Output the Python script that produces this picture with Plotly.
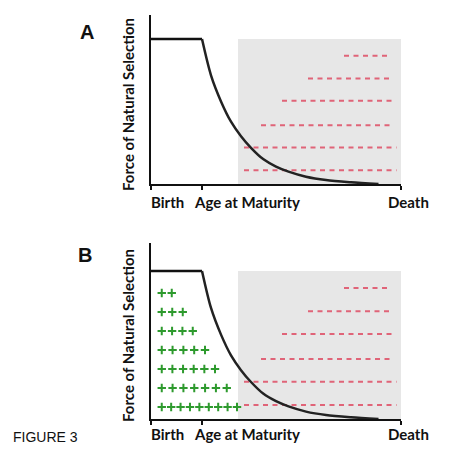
import plotly.graph_objects as go

# ---- data ----
flat_x = [0.0, 0.204]
flat_y = [1.0, 1.0]
curve_x = [0.204, 0.24, 0.28, 0.32, 0.36, 0.40, 0.45, 0.50, 0.55, 0.62, 0.70, 0.80, 0.91]
curve_y = [1.0, 0.75, 0.57, 0.43, 0.33, 0.25, 0.17, 0.12, 0.085, 0.05, 0.027, 0.012, 0.0]

shade_x = [0.348, 1.0]

dash_y = [0.885, 0.728, 0.575, 0.405, 0.252, 0.095]
dash_x0 = [0.772, 0.628, 0.524, 0.44, 0.372, 0.372]
dash_x1 = [0.95, 0.966, 0.97, 0.97, 0.982, 0.982]

plus_y = [0.851, 0.723, 0.595, 0.466, 0.338, 0.209, 0.081]
plus_n = [2, 3, 4, 5, 6, 7, 9]
plus_x0 = 0.043
plus_x1 = [0.083, 0.127, 0.167, 0.216, 0.256, 0.303, 0.344]

x_labels = ["Birth", "Age at Maturity", "Death"]
y_title = "Force of Natural Selection"
panel_labels = ["A", "B"]
fig_label = "FIGURE 3"

# ---- layout helpers (pixel geometry; page body has an 8px margin) ----
OFF = 8
W, H = 474 - OFF, 454 - OFF
def px_x(p):
    return (p - OFF) / W
def px_y(p):
    return 1 - (p - OFF) / H

panels = [
    dict(xa="x", ya="y", xd=[px_x(151), px_x(401)], yd=[px_y(184), px_y(15)], yr=[0, 1.166],
         lab_y=202, title_y=105, letter_xy=(87, 32), plus=False),
    dict(xa="x2", ya="y2", xd=[px_x(151), px_x(401)], yd=[px_y(419), px_y(243)], yr=[0, 1.189],
         lab_y=434, title_y=336, letter_xy=(85, 255), plus=True),
]

RED = "#e06478"
GREEN = "#2e9a2e"
fig = go.Figure()
annotations = []
shapes = []

for i, p in enumerate(panels):
    xa, ya = p["xa"], p["ya"]
    shapes.append(dict(type="rect", xref=xa, yref=ya, x0=shade_x[0], x1=shade_x[1], y0=0, y1=1,
                       fillcolor="#e7e7e7", line=dict(width=0), layer="below"))
    for yv, a, b in zip(dash_y, dash_x0, dash_x1):
        fig.add_trace(go.Scatter(x=[a, b], y=[yv, yv], mode="lines", xaxis=xa, yaxis=ya,
                                 line=dict(color=RED, width=2, dash="5px,4.5px"),
                                 showlegend=False, hoverinfo="skip"))
    if p["plus"]:
        for yv, n, x1 in zip(plus_y, plus_n, plus_x1):
            step = (x1 - plus_x0) / (n - 1)
            xs = [plus_x0 + k * step for k in range(n)]
            fig.add_trace(go.Scatter(x=xs, y=[yv] * n, mode="markers", xaxis=xa, yaxis=ya,
                                     marker=dict(symbol="cross-thin", size=6,
                                                 line=dict(color=GREEN, width=2)),
                                     showlegend=False, hoverinfo="skip"))
    fig.add_trace(go.Scatter(x=flat_x, y=flat_y, mode="lines", xaxis=xa, yaxis=ya,
                             line=dict(color="#111111", width=2.5), showlegend=False, hoverinfo="skip"))
    fig.add_trace(go.Scatter(x=curve_x, y=curve_y, mode="lines", xaxis=xa, yaxis=ya,
                             line=dict(color="#222222", width=2.5, shape="spline", smoothing=0.8),
                             showlegend=False, hoverinfo="skip"))

    lab_font = dict(family="Lato", size=15, color="#111111")
    annotations.append(dict(text="<b>%s</b>" % x_labels[0], x=px_x(149), y=px_y(p["lab_y"]),
                            xref="paper", yref="paper", xanchor="left", yanchor="middle",
                            showarrow=False, font=lab_font))
    annotations.append(dict(text="<b>%s</b>" % x_labels[1], x=px_x(192), y=px_y(p["lab_y"]),
                            xref="paper", yref="paper", xanchor="left", yanchor="middle",
                            showarrow=False, font=lab_font))
    annotations.append(dict(text="<b>%s</b>" % x_labels[2], x=px_x(408), y=px_y(p["lab_y"]),
                            xref="paper", yref="paper", xanchor="center", yanchor="middle",
                            showarrow=False, font=lab_font))
    annotations.append(dict(text="<b>%s</b>" % y_title, x=px_x(128), y=px_y(p["title_y"]),
                            xref="paper", yref="paper", xanchor="center", yanchor="middle",
                            textangle=-90, showarrow=False, font=lab_font))
    lx, ly = p["letter_xy"]
    annotations.append(dict(text="<b>%s</b>" % panel_labels[i], x=px_x(lx), y=px_y(ly),
                            xref="paper", yref="paper", xanchor="center", yanchor="middle",
                            showarrow=False, font=dict(family="Liberation Sans", size=20, color="#111111")))

annotations.append(dict(text=fig_label, x=px_x(11), y=px_y(437), xref="paper", yref="paper",
                        xanchor="left", yanchor="middle", showarrow=False,
                        font=dict(family="Liberation Sans", size=14, color="#111111")))

axis_common_x = dict(range=[0, 1], showgrid=False, zeroline=False, showline=True,
                     linecolor="#111111", linewidth=2, ticks="outside", tickvals=[0, 0.204, 1],
                     ticklen=4, tickwidth=1.5, tickcolor="#111111", showticklabels=False,
                     fixedrange=True)
axis_common_y = dict(showgrid=False, zeroline=False, showline=True, linecolor="#111111",
                     linewidth=2, ticks="", showticklabels=False, fixedrange=True)

fig.update_layout(
    width=W, height=H, autosize=False,
    margin=dict(l=0, r=0, t=0, b=0),
    paper_bgcolor="white", plot_bgcolor="rgba(0,0,0,0)",
    xaxis=dict(domain=panels[0]["xd"], anchor="y", **axis_common_x),
    yaxis=dict(domain=panels[0]["yd"], anchor="x", range=panels[0]["yr"], **axis_common_y),
    xaxis2=dict(domain=panels[1]["xd"], anchor="y2", **axis_common_x),
    yaxis2=dict(domain=panels[1]["yd"], anchor="x2", range=panels[1]["yr"], **axis_common_y),
    shapes=shapes, annotations=annotations,
)

fig.write_html("out.html")
